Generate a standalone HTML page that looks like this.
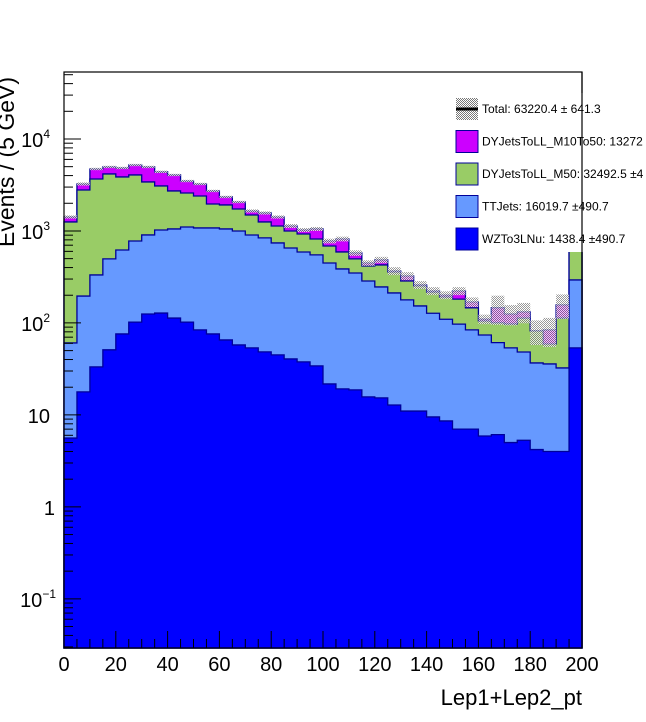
<!DOCTYPE html>
<html><head><meta charset="utf-8"><style>
html,body{margin:0;padding:0;background:#fff;}
svg{display:block;font-family:"Liberation Sans",Arial,sans-serif;}
</style></head><body>
<svg id="chart" width="646" height="722" viewBox="0 0 646 722" xmlns="http://www.w3.org/2000/svg">
<defs>
<pattern id="hatch" width="2" height="2" patternUnits="userSpaceOnUse">
<rect width="2" height="2" fill="#fff"/>
<rect width="1" height="1" fill="#777"/>
<rect x="1" y="1" width="1" height="1" fill="#777"/>
</pattern>
</defs>
<g id="plot"></g>
<g id="axes"></g>
<g id="legend"></g>
</svg>
<script>
const binEdgesStart = 0, binWidthGeV = 5;
const wz = [5.6,17.8,33.3,51,75.9,102,125,128,113,102,84,75.9,65.3,57.6,53.5,48.4,44.9,40.6,37.7,34.1,21.7,19.2,18.7,15.7,15.3,12.8,11.0,11.0,9.5,8.6,7.0,7.0,5.9,6.1,5.0,5.3,4.2,4.0,4.0,53.5];
const ttjets = [55,178,299,446,545,676,780,897,939,1003,994,1002,987,942,851,792,696,612,553,515,427,367,330,270,231,199,167,142,118,101,90,77,68,55,48.5,43,32.5,31.8,28.4,240];
const dyM50 = [1192,2594,3343,3672,3245,3286,2507,2061,1670,1483,1321,885,866,733,587,413,392,347,336,269,238,205,148,131,181,146,108,100,89,82,84.5,62,31,39.4,44,64.6,45.3,23.2,80.6,505];
const dyM10 = [166,453,1045,797,976,1148,1554,1309,1342,905,844,759,425,332,157,316,286,133,98,234,91,227,80,32,57,9,38,6,6,9,41,23,5,46,27.5,19,0,25,44,107];
const relErr = [0.04,0.04,0.03,0.03,0.03,0.03,0.03,0.03,0.03,0.03,0.03,0.03,0.03,0.03,0.04,0.04,0.04,0.05,0.05,0.05,0.06,0.06,0.07,0.07,0.08,0.1,0.1,0.1,0.1,0.1,0.1,0.12,0.12,0.35,0.25,0.25,0.3,0.35,0.3,0.1];
const xTicks = [0,20,40,60,80,100,120,140,160,180,200];
const yDecades = [-1,0,1,2,3,4];
const yLabels = ["10<tspan font-size='12' dy='-9'>\u22121</tspan>","1","10","10<tspan font-size='12' dy='-9'>2</tspan>","10<tspan font-size='12' dy='-9'>3</tspan>","10<tspan font-size='12' dy='-9'>4</tspan>"];

const X0=64,X1=582,Y0=72,Y1=648;
const xMin=0,xMax=200,logMin=Math.log10(0.0292),logMax=Math.log10(53500);
const sx=v=>X0+(v-xMin)/(xMax-xMin)*(X1-X0);
const sy=v=>{const l=Math.log10(Math.max(v,1e-9));return Y1-(l-logMin)/(logMax-logMin)*(Y1-Y0);};
const NS="http://www.w3.org/2000/svg";
function mk(tag,attrs,parent){const e=document.createElementNS(NS,tag);for(const k in attrs)e.setAttribute(k,attrs[k]);parent.appendChild(e);return e;}
const plot=document.getElementById('plot'),axes=document.getElementById('axes'),leg=document.getElementById('legend');

const series=[
 {d:wz,fill:'#0000ff',name:'wz'},
 {d:ttjets,fill:'#6699ff',name:'ttjets'},
 {d:dyM50,fill:'#99cc66',name:'dy-m50'},
 {d:dyM10,fill:'#cc00ff',name:'dy-m10to50'}
];
const n=wz.length;
const cum=new Array(n).fill(0);
const layers=[];
series.forEach(s=>{
  for(let i=0;i<n;i++)cum[i]+=s.d[i];
  layers.push({s:s,top:cum.slice()});
});
for(let k=layers.length-1;k>=0;k--){
  const L=layers[k];
  let p=`M${X0},${Y1}`;
  for(let i=0;i<n;i++){
    const xa=sx(binEdgesStart+i*binWidthGeV),xb=sx(binEdgesStart+(i+1)*binWidthGeV);
    const y=Math.min(Y1,Math.max(Y0,sy(L.top[i])));
    p+=` L${xa},${y} L${xb},${y}`;
  }
  p+=` L${X1},${Y1} Z`;
  const el=mk('path',{d:p,fill:L.s.fill,stroke:'#000099','stroke-width':1.3},plot);
  
  
}
for(let i=0;i<n;i++){
  const t=cum[i];
  const xa=sx(binEdgesStart+i*binWidthGeV),xb=sx(binEdgesStart+(i+1)*binWidthGeV);
  const ya=sy(t*(1+relErr[i])),yb=sy(t*(1-relErr[i]));
  const r=mk('rect',{x:xa,y:ya,width:xb-xa,height:Math.max(1.5,yb-ya),fill:'url(#hatch)','fill-opacity':0.75},plot);
  
  
}
const fr=mk('rect',{x:X0,y:Y0,width:X1-X0,height:Y1-Y0,fill:'none',stroke:'#000','stroke-width':1.2},axes);


for(let v=0;v<=200;v+=5){
  const big=v%20===0;
  mk('line',{x1:sx(v),x2:sx(v),y1:Y1,y2:Y1-(big?17:9),stroke:'#000','stroke-width':1},axes);
}
xTicks.forEach(v=>{
  const t=mk('text',{x:sx(v),y:671,'font-size':20,'text-anchor':'middle'},axes);
  t.textContent=v;
  
  
});
for(let d=-2;d<=4;d++){
  for(let m=1;m<10;m++){
    const v=m*Math.pow(10,d);
    const y=sy(v);
    if(y<Y0||y>Y1)continue;
    mk('line',{x1:X0,x2:X0+(m===1?17:9),y1:y,y2:y,stroke:'#000','stroke-width':1},axes);
  }
}
yDecades.forEach((d,i)=>{
  const t=mk('text',{x:d<0?56:(d===0?55:50),y:sy(Math.pow(10,d))+8,'font-size':20,'text-anchor':'end'},axes);
  t.innerHTML=yLabels[i];
  
  
});
const xt=mk('text',{x:X1,y:705,'font-size':22,'text-anchor':'end'},axes);
xt.textContent='Lep1+Lep2_pt';


const yt=mk('text',{x:0,y:0,'font-size':23,'text-anchor':'start',transform:'translate(14,247) rotate(-90)'},axes);
yt.textContent='Events / (5 GeV)';


const lbg=mk('rect',{x:450,y:93,width:196,height:159,fill:'#fff'},leg);


const legendNames=['Total: 63220.4 \u00b1 641.3','DYJetsToLL_M10To50: 13272','DYJetsToLL_M50: 32492.5 \u00b14','TTJets: 16019.7 \u00b1490.7','WZTo3LNu: 1438.4 \u00b1490.7'];
const legendFills=['url(#hatch)','#cc00ff','#99cc66','#6699ff','#0000ff'];
legendNames.forEach((nm,i)=>{
  const y=98+i*32.5;
  const g=mk('g',{},leg);
  
  
  mk('rect',{x:456,y:y,width:22,height:22,fill:legendFills[i],stroke:i===0?'none':'#000099','stroke-width':1},g);
  if(i===0)mk('line',{x1:456,x2:478,y1:y+11,y2:y+11,stroke:'#000','stroke-width':3},g);
  const t=mk('text',{x:482,y:y+15,'font-size':12},g);
  t.textContent=nm;
});
mk('line',{x1:X1,x2:X1,y1:Y0,y2:Y1,stroke:'#000','stroke-width':1.2},leg);
</script>
</body></html>
